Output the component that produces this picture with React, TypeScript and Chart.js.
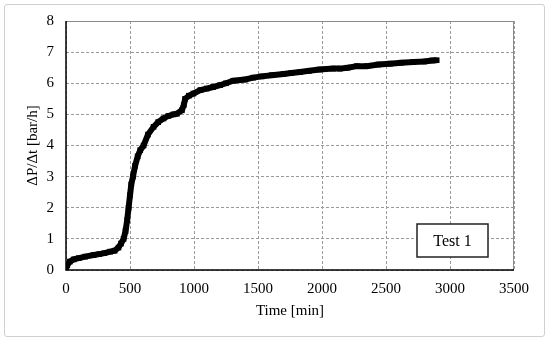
import React, { useEffect, useRef } from "react";
import { Chart, registerables } from "chart.js";
Chart.register(...registerables);

const times = [0, 10, 30, 60, 100, 150, 216, 260, 300, 346, 380, 410, 430, 450, 465, 478, 489, 500, 510, 523, 540, 560, 580, 606, 640, 684, 720, 762, 800, 840, 866, 905, 920, 931, 960, 996, 1050, 1100, 1150, 1204, 1250, 1306, 1400, 1463, 1530, 1608, 1700, 1760, 1829, 1900, 1980, 2088, 2141, 2200, 2272, 2350, 2440, 2532, 2620, 2714, 2800, 2860, 2896];
const values = [0.05, 0.15, 0.27, 0.34, 0.38, 0.43, 0.48, 0.51, 0.54, 0.59, 0.62, 0.72, 0.85, 1.0, 1.25, 1.6, 2.0, 2.4, 2.75, 3.0, 3.35, 3.65, 3.85, 4.0, 4.35, 4.6, 4.75, 4.87, 4.95, 5.0, 5.02, 5.13, 5.3, 5.5, 5.6, 5.67, 5.78, 5.83, 5.88, 5.94, 6.0, 6.08, 6.12, 6.18, 6.22, 6.26, 6.3, 6.33, 6.36, 6.4, 6.44, 6.47, 6.47, 6.5, 6.55, 6.55, 6.6, 6.63, 6.66, 6.68, 6.7, 6.73, 6.74];
const xTicks = [0, 500, 1000, 1500, 2000, 2500, 3000, 3500];
const yTicks = [0, 1, 2, 3, 4, 5, 6, 7, 8];
const xTitle = "Time [min]";
const yTitle = "ΔP/Δt [bar/h]";
const labelText = "Test 1";

const FONT = "'Liberation Serif', 'Times New Roman', serif";

export default function App() {
  const ref = useRef<HTMLCanvasElement | null>(null);
  useEffect(() => {
    if (!ref.current) return;
    const frame = {
      id: "frame",
      beforeDatasetsDraw(chart: any) {
        const { ctx, chartArea: a } = chart;
        ctx.save();
        ctx.strokeStyle = "#8a8a8a";
        ctx.lineWidth = 1;
        ctx.setLineDash([]);
        ctx.beginPath();
        ctx.moveTo(a.left, a.top + 0.5);
        ctx.lineTo(a.right - 0.5, a.top + 0.5);
        ctx.lineTo(a.right - 0.5, a.bottom);
        ctx.stroke();
        ctx.strokeStyle = "#000";
        ctx.lineWidth = 1.5;
        ctx.beginPath();
        ctx.moveTo(a.left, a.top);
        ctx.lineTo(a.left, a.bottom);
        ctx.lineTo(a.right, a.bottom);
        ctx.stroke();
        ctx.restore();
      },
      afterDraw(chart: any) {
        const { ctx, chartArea: a } = chart;
        const x0 = a.right - 97, y0 = a.bottom - 46, w = 71, h = 33;
        ctx.save();
        ctx.fillStyle = "#fff";
        ctx.fillRect(x0, y0, w, h);
        ctx.strokeStyle = "#222";
        ctx.lineWidth = 1.5;
        ctx.strokeRect(x0, y0, w, h);
        ctx.fillStyle = "#000";
        ctx.font = `16px ${FONT}`;
        ctx.textAlign = "center";
        ctx.textBaseline = "middle";
        ctx.fillText(labelText, x0 + w / 2, y0 + h / 2 + 1);
        ctx.restore();
      },
    };
    const chart = new Chart(ref.current, {
      type: "scatter",
      data: {
        datasets: [
          {
            data: times.map((t, i) => ({ x: t, y: values[i] })),
            showLine: true,
            borderColor: "#000",
            backgroundColor: "#000",
            borderWidth: 6,
            pointStyle: "rect",
            pointRadius: 4,
            pointBorderWidth: 0,
            tension: 0,
          },
        ],
      },
      options: {
        animation: false,
        responsive: false,
        layout: { padding: { left: 0, top: 20, right: 36, bottom: 0 } },
        plugins: { legend: { display: false }, tooltip: { enabled: false } },
        scales: {
          x: {
            type: "linear",
            min: 0,
            max: 3500,
            afterBuildTicks: (s: any) => { s.ticks = xTicks.map((v) => ({ value: v })); },
            afterFit: (s: any) => { s.height = 72; },
            ticks: { color: "#000", font: { family: FONT, size: 15 }, padding: 10, callback: (v: any) => String(v) },
            grid: { color: "#9a9a9a", drawTicks: false, lineWidth: 1 },
            border: { display: false, dash: [3, 2] },
            title: { display: true, text: xTitle, color: "#000", font: { family: FONT, size: 15 }, padding: { top: 0, bottom: 22 } },
          },
          y: {
            min: 0,
            max: 8,
            afterBuildTicks: (s: any) => { s.ticks = yTicks.map((v) => ({ value: v })); },
            afterFit: (s: any) => { s.width = 66; },
            ticks: { color: "#000", font: { family: FONT, size: 15 }, padding: 12, callback: (v: any) => String(v) },
            grid: { color: "#9a9a9a", drawTicks: false, lineWidth: 1 },
            border: { display: false, dash: [3, 2] },
            title: { display: true, text: yTitle, color: "#000", font: { family: FONT, size: 15 }, padding: { top: 24, bottom: 0 } },
          },
        },
      },
      plugins: [frame],
    } as any);
    return () => chart.destroy();
  }, []);
  return (
    <div style={{ position: "fixed", left: 0, top: 0, width: 550, height: 342, background: "#fff" }}>
      <div style={{ position: "absolute", left: 4, top: 4, width: 539, height: 331, border: "1px solid #d0d0d0", borderRadius: 3 }} />
      <canvas ref={ref} width={550} height={342} style={{ position: "absolute", left: 0, top: 0 }} />
    </div>
  );
}
